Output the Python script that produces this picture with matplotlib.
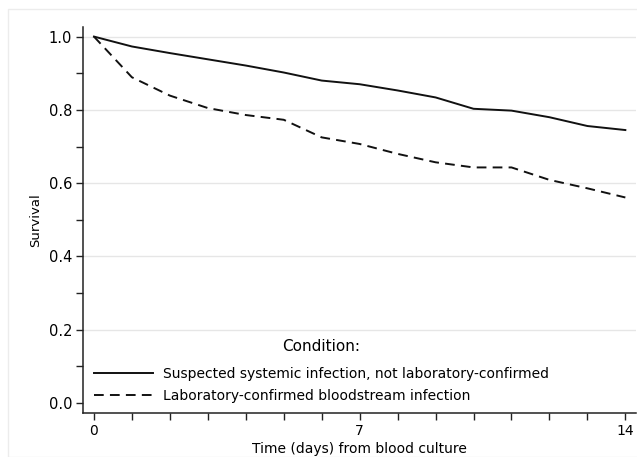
"""
Kaplan-Meier style survival curves by condition, days 0-14 from blood culture.
"""
import matplotlib
matplotlib.use("Agg")
import matplotlib.pyplot as plt
from matplotlib.patches import Rectangle
import numpy as np

DAYS = list(range(15))
SUSPECTED = [1.000, 0.973, 0.955, 0.938, 0.921, 0.902, 0.880, 0.870, 0.853,
             0.834, 0.803, 0.798, 0.780, 0.756, 0.745]
CONFIRMED = [1.000, 0.889, 0.839, 0.805, 0.786, 0.773, 0.725, 0.707, 0.680,
             0.657, 0.643, 0.643, 0.609, 0.586, 0.561]

LABELS = ["Suspected systemic infection, not laboratory-confirmed",
          "Laboratory-confirmed bloodstream infection"]
YTICKS = [0.0, 0.2, 0.4, 0.6, 0.8, 1.0]
XTICKS = [0, 7, 14]

plt.rcParams["font.family"] = ["DejaVu Sans"]

fig = plt.figure(figsize=(6.37, 4.57), dpi=100)
# faint outer frame of the graph region
fig.patches.append(Rectangle((8 / 637, 0), 1, 1 - 9 / 457, transform=fig.transFigure,
                             fill=False, edgecolor="#ececec", linewidth=1.0))
ax = fig.add_axes([0.1308, 0.0963, 0.8676, 0.8453])

ax.plot(DAYS, SUSPECTED, color="#111111", linewidth=1.4, label=LABELS[0])
ax.plot(DAYS, CONFIRMED, color="#111111", linewidth=1.4, linestyle=(0, (5, 3.2)),
        label=LABELS[1])

ax.set_xlim(-0.28, 14.28)
ax.set_ylim(-0.027, 1.027)
ax.set_xticks(XTICKS)
ax.set_xticks(DAYS, minor=True)
ax.set_yticks(YTICKS)
ax.set_yticklabels([f"{v:.1f}" for v in YTICKS])
ax.set_yticks(np.arange(0.1, 1.0, 0.2), minor=True)

for side in ("top", "right"):
    ax.spines[side].set_visible(False)
for side in ("left", "bottom"):
    ax.spines[side].set_linewidth(1.1)
    ax.spines[side].set_color("#222222")

ax.tick_params(axis="both", which="both", length=5, width=1.0, color="#222222",
               labelsize=10.5, pad=3)
ax.tick_params(axis="x", which="major", labelsize=10, pad=3)

for v in YTICKS[1:]:
    ax.axhline(v, color="#e6e6e6", linewidth=1.0, zorder=0)

ax.set_ylabel("Survival", fontsize=9.5, labelpad=5)
ax.set_xlabel("Time (days) from blood culture", fontsize=10, labelpad=3)

leg = ax.legend(loc="lower left", bbox_to_anchor=(0.0, 0.0), frameon=False,
                fontsize=10, title="Condition:", title_fontsize=11,
                handlelength=4.3, handletextpad=0.7, labelspacing=0.55,
                borderaxespad=0.35)
leg._legend_box.sep = 9

fig.savefig("out.png", dpi=100)
